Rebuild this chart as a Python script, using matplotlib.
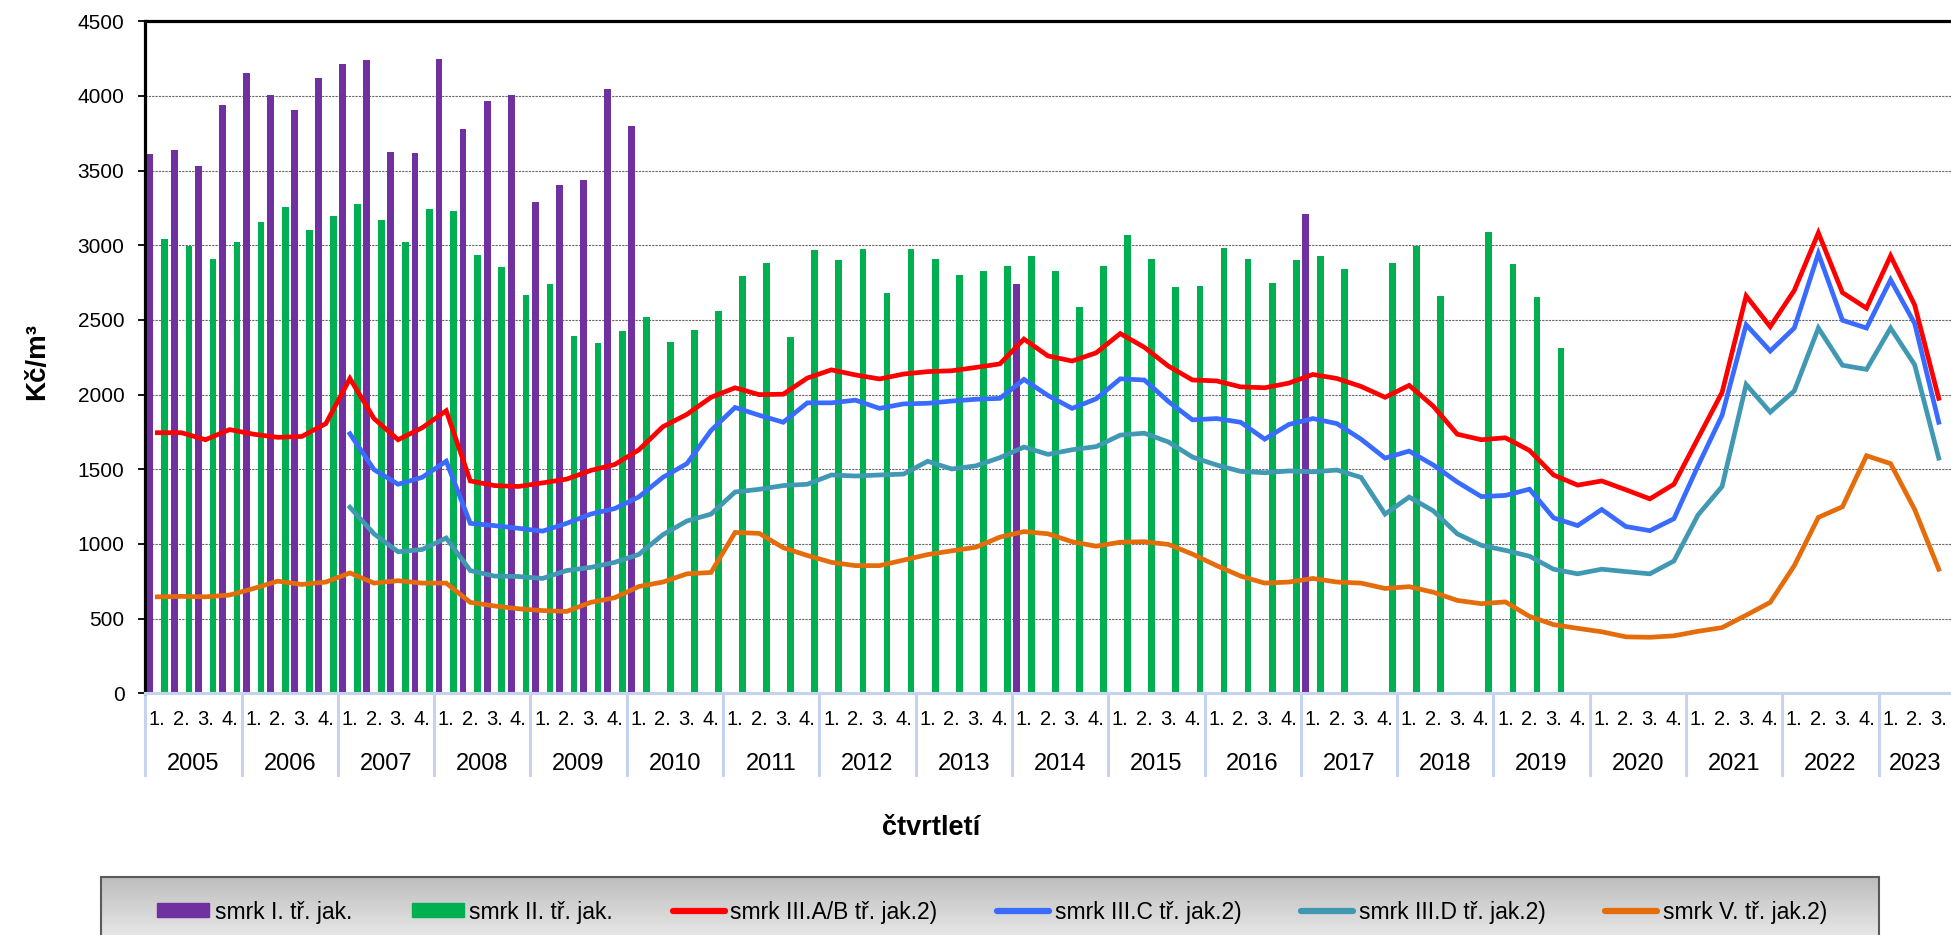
import matplotlib
matplotlib.use("Agg")
import matplotlib.pyplot as plt
import numpy as np
from matplotlib.patches import Rectangle
from matplotlib.lines import Line2D
from matplotlib.transforms import blended_transform_factory

plt.rcParams["font.family"] = ["Liberation Sans", "DejaVu Sans"]

nan = np.nan

years = [str(y) for y in range(2005, 2024)]
quarter_labels = ["1.", "2.", "3.", "4."]
n_quarters = 75  # 2005 Q1 .. 2023 Q3

# smrk I. tr. jak. (bars, only some quarters)
smrk_1 = [3610, 3640, 3532, 3939, 4154, 4009, 3908, 4120, 4212, 4243,
          3625, 3615, 4246, 3782, 3969, 4006, 3289, 3403, 3440, 4046,
          3800] + [nan] * 15 + [2742] + [nan] * 11 + [3207] + [nan] * 26

# smrk II. tr. jak. (bars)
smrk_2 = [3043, 2994, 2908, 3025, 3154, 3255, 3105, 3194, 3277, 3169,
          3025, 3246, 3228, 2935, 2855, 2668, 2742, 2394, 2348, 2428,
          2520, 2351, 2431, 2563, 2794, 2883, 2385, 2969, 2902, 2972,
          2680, 2975, 2908, 2800, 2828, 2859, 2929, 2831, 2588, 2859,
          3068, 2911, 2720, 2729, 2985, 2911, 2745, 2902, 2929, 2840,
          nan, 2880, 2997, 2658, nan, 3092, 2877, 2655, 2314] + [nan] * 16

smrk_3ab = [1745, 1745, 1698, 1766, 1735, 1714, 1720, 1806, 2108, 1840,
            1698, 1778, 1892, 1422, 1391, 1385, 1409, 1434, 1492, 1532,
            1630, 1785, 1868, 1982, 2046, 2000, 2003, 2111, 2166, 2132,
            2105, 2138, 2154, 2160, 2182, 2206, 2372, 2259, 2225, 2280,
            2409, 2317, 2191, 2098, 2092, 2052, 2046, 2077, 2135, 2108,
            2055, 1982, 2062, 1923, 1735, 1698, 1711, 1626, 1462, 1394,
            1422, 1363, 1302, 1400, 1708, 2015, 2661, 2455, 2698, 3083,
            2683, 2579, 2929, 2600, 1975]

smrk_3c = [nan] * 8 + [
            1738, 1498, 1400, 1446, 1554, 1138, 1123, 1105, 1086, 1138,
            1200, 1237, 1315, 1446, 1538, 1760, 1914, 1862, 1815, 1945,
            1945, 1963, 1908, 1938, 1942, 1957, 1969, 1975, 2102, 1994,
            1908, 1972, 2106, 2098, 1954, 1831, 1840, 1815, 1702, 1800,
            1840, 1806, 1702, 1575, 1622, 1529, 1415, 1317, 1325, 1367,
            1175, 1123, 1231, 1117, 1089, 1169, 1523, 1862, 2468, 2292,
            2446, 2945, 2498, 2446, 2769, 2477, 1815]

smrk_3d = [nan] * 8 + [
            1246, 1068, 948, 963, 1040, 822, 785, 782, 769, 822,
            843, 877, 930, 1062, 1154, 1200, 1348, 1366, 1391, 1400,
            1462, 1455, 1462, 1468, 1554, 1502, 1523, 1578, 1649, 1600,
            1631, 1652, 1729, 1742, 1683, 1582, 1529, 1486, 1477, 1489,
            1483, 1495, 1446, 1200, 1314, 1222, 1068, 991, 957, 918,
            831, 800, 831, 815, 800, 886, 1194, 1385, 2068, 1883,
            2025, 2446, 2197, 2169, 2446, 2200, 1575]

smrk_5 = [646, 649, 646, 658, 702, 751, 729, 745, 806, 738,
          754, 738, 738, 609, 585, 566, 554, 548, 609, 640,
          715, 745, 800, 809, 1077, 1071, 975, 923, 877, 855,
          855, 892, 929, 954, 978, 1046, 1083, 1068, 1015, 985,
          1012, 1015, 997, 932, 855, 785, 738, 745, 769, 745,
          738, 702, 714, 677, 622, 600, 612, 515, 460, 435,
          412, 378, 375, 385, 415, 440, 523, 609, 855, 1178,
          1249, 1591, 1538, 1231, 831]

series_names = ["smrk I. tř. jak.", "smrk II. tř. jak.", "smrk III.A/B tř. jak.2)",
                "smrk III.C tř. jak.2)", "smrk III.D tř. jak.2)", "smrk V. tř. jak.2)"]
colors = ["#7030A0", "#00B050", "#FF0000", "#3A6BFF", "#4198B3", "#E46C0A"]

W, H = 1951, 935
fig = plt.figure(figsize=(W / 100, H / 100), dpi=100)
left, bottom, top = 145.3 / W, 1 - 693.3 / H, 1 - 21.3 / H
ax = fig.add_axes([left, bottom, 1.0005 - left, top - bottom])

x = np.arange(n_quarters)
bw = 0.28
ax.bar(x - 0.30, smrk_1, bw, color=colors[0], zorder=2)
ax.bar(x + 0.31, smrk_2, bw, color=colors[1], zorder=2)

lines = [smrk_3ab, smrk_3c, smrk_3d, smrk_5]
for vals, c, z in zip(lines, colors[2:], [6, 5, 4, 3]):
    ax.plot(x, vals, color=c, lw=3.4, zorder=z, solid_joinstyle="miter")

ax.set_xlim(-0.5, 74.55)
ax.set_ylim(0, 4500)
ax.set_yticks(np.arange(0, 4501, 500))
ax.yaxis.grid(True, color="#666666", lw=0.8, ls=(0, (2, 1)), zorder=1)
ax.set_axisbelow(True)
ax.tick_params(axis="y", labelsize=15, length=5, width=1.3, pad=10, direction="out")

ax.set_xticks(x)
ax.set_xticklabels([quarter_labels[i % 4] for i in x], fontsize=14.5)
ax.tick_params(axis="x", length=0, pad=12)

for s in ["left", "top"]:
    ax.spines[s].set_linewidth(2.3)
    ax.spines[s].set_color("black")
ax.spines["right"].set_visible(False)
ax.spines["bottom"].set_color("#C5D3EE")
ax.spines["bottom"].set_linewidth(2.2)

# two-level category axis: year labels and separators
trans = blended_transform_factory(ax.transData, ax.transAxes)
sep_bottom = (693.3 - 775) / 672.0
for i, yr in enumerate(years):
    start = 4 * i - 0.5
    end = min(start + 4, n_quarters - 0.5)
    ax.plot([start, start], [0, sep_bottom], color="#C5D3EE", lw=2.2,
            transform=trans, clip_on=False, zorder=0)
    ax.text((start + end) / 2, (693.3 - 764) / 672.0, yr, transform=trans,
            ha="center", va="center", fontsize=17)

fig.text(37 / W, 1 - 361 / H, "Kč/m³", rotation=90, ha="center", va="center",
         fontsize=20, fontweight="bold")
fig.text(931 / W, 1 - 828 / H, "čtvrtletí", ha="center", va="center",
         fontsize=19.5, fontweight="bold")

# legend box with grey gradient
lx0, lx1, ly0, ly1 = 101 / W, 1879 / W, 0.0, 1 - 877 / H
gax = fig.add_axes([lx0, ly0, lx1 - lx0, ly1 - ly0], zorder=-1)
grad = np.linspace(0, 1, 256).reshape(-1, 1)
gax.imshow(grad, aspect="auto", cmap=matplotlib.colors.LinearSegmentedColormap.from_list(
    "g", ["#BDBDBD", "#E6E6E6"]), extent=[0, 1, 0, 1], origin="upper")
gax.set_axis_off()
fig.patches.append(Rectangle((lx0, ly0 - 0.01), lx1 - lx0, ly1 - ly0 + 0.01,
                             transform=fig.transFigure, fill=False,
                             edgecolor="#5A5A5A", lw=1.5, zorder=3))

handles = [Rectangle((0, 0), 1, 1, color=colors[0]),
           Rectangle((0, 0), 1, 1, color=colors[1])]
handles += [Line2D([0], [0], color=c, lw=4.5, solid_capstyle="round") for c in colors[2:]]
leg = fig.legend(handles, series_names, loc="center", ncol=6,
                 bbox_to_anchor=(992 / W, 1 - 912 / H), frameon=False,
                 fontsize=16.5, handlelength=2.27, handleheight=0.55,
                 handletextpad=0.25, columnspacing=2.6)

fig.savefig("out.png", dpi=100)
